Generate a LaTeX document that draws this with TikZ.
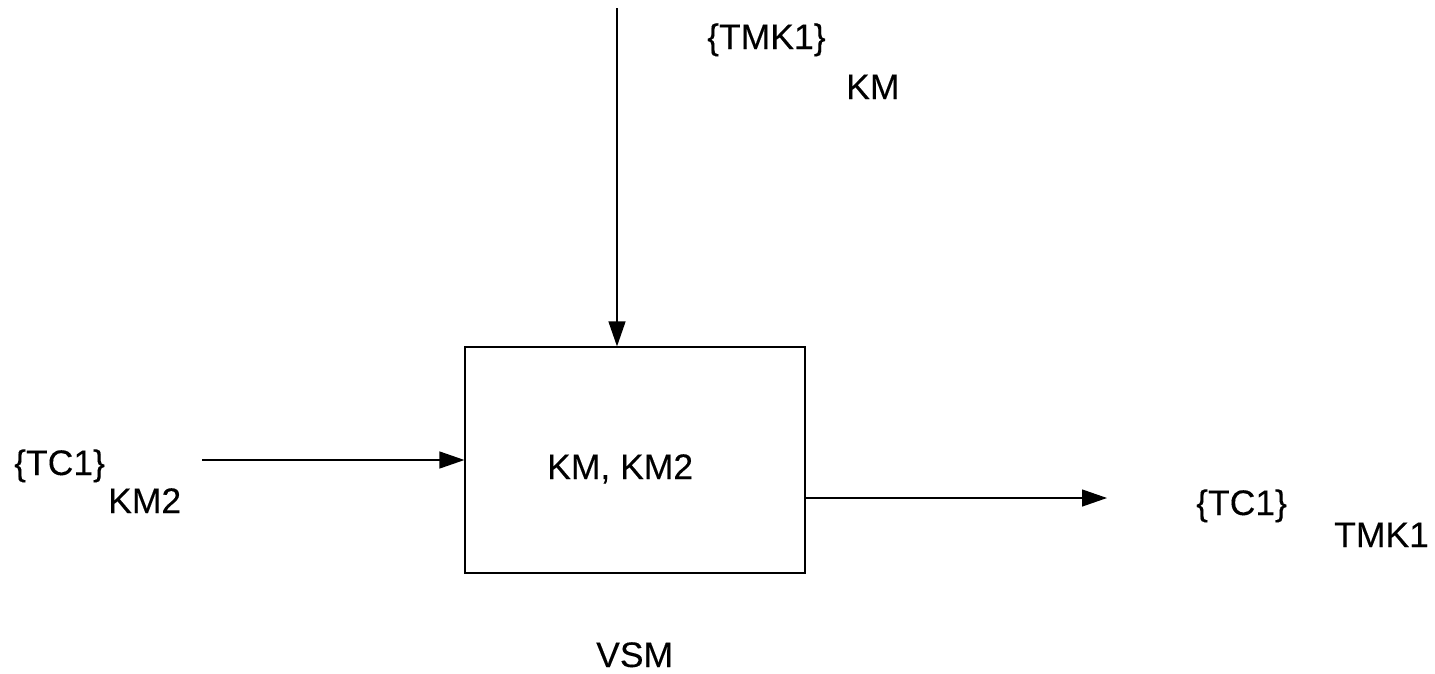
\documentclass[tikz,border=0pt]{standalone}
\usepackage{fontspec}
\setmainfont[FakeBold=0.2]{Liberation Sans}
\usetikzlibrary{arrows.meta}
\begin{document}
\begin{tikzpicture}[x=1pt,y=-1pt,
  lbl/.style={inner sep=0pt,anchor=base west,font=\fontsize{35.5}{40}\selectfont},
  arr/.style={line width=1.3pt,-{Triangle[length=25pt,width=17pt]}},
  boxst/.style={draw,line width=1.2pt,minimum width=340pt,minimum height=226pt,inner sep=0pt}]
\useasboundingbox (0,0) rectangle (1435,673);
\node[boxst] (box) at (635,460) {};
\node[lbl] (boxlabel) at (547,479) {KM, KM2};
\coordinate (tin) at (617,8);
\coordinate (lin) at (202,460);
\coordinate (rout) at (1107,498);
\draw[arr] (tin) -- (tin |- box.north);
\draw[arr] (lin) -- (box.west);
\draw[arr] (box.east |- rout) -- (rout);
\node[lbl] (t1) at (707,49) {\{TMK1\}};
\node[lbl] (t2) at (846,99) {KM};
\node[lbl] (l1) at (14,475) {\{TC1\}};
\node[lbl] (l2) at (108,513) {KM2};
\node[lbl] (r1) at (1196,515) {\{TC1\}};
\node[lbl] (r2) at (1334,547) {TMK1};
\node[lbl] (vsm) at (596,667) {VSM};
\end{tikzpicture}
\end{document}
